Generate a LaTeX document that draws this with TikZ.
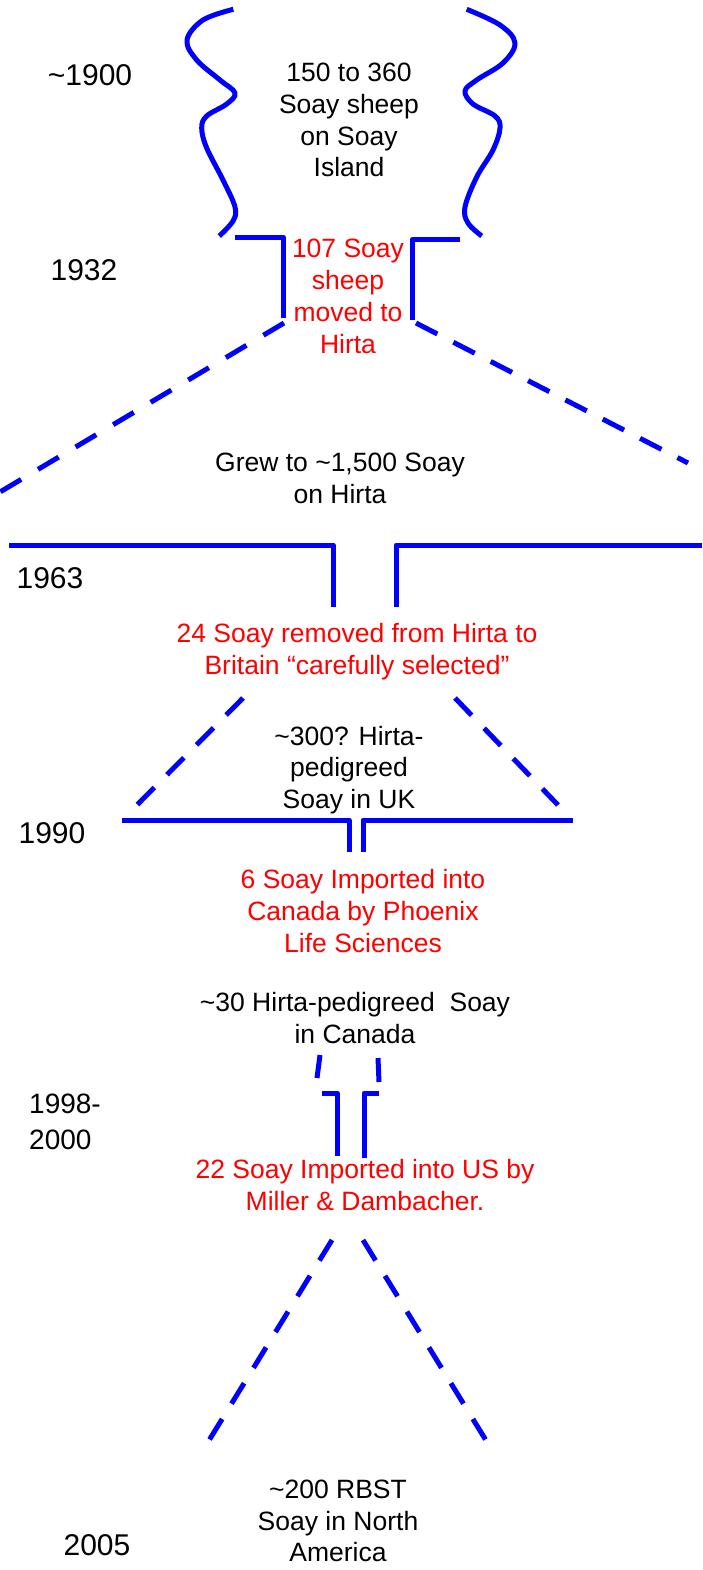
\documentclass[tikz,border=0pt]{standalone}
\usepackage{fontspec}
\setmainfont{Liberation Sans}
\tikzset{
  rim/.style={blue, line width=5pt, line join=round},
  trail/.style={blue, line width=5pt, dash pattern=on 24pt off 18pt},
  body/.style={font=\fontsize{26.5}{31.8}\selectfont, align=center, inner sep=0pt},
  event/.style={body, text=red},
  yearlbl/.style={font=\fontsize{30}{36}\selectfont, inner sep=0pt, align=left},
}
\begin{document}
\begin{tikzpicture}[x=1pt, y=-1pt]
\useasboundingbox (0,0) rectangle (702,1570);

% Soay Island: two wavy coastlines
\draw[rim] plot[smooth, tension=0.6] coordinates {
  (233.3,9.3) (203,20) (187,40) (196.7,60) (220,80) (235,93) (226.7,104)
  (206.7,116) (201.7,128) (206.7,148) (223,180) (235,207) (233,221) (219.3,236)};
\draw[rim] plot[smooth, tension=0.6] coordinates {
  (466.7,9.3) (500,25) (515,43) (503,63) (476.7,80) (465,91) (473,104)
  (495,116) (500,128) (493,150) (476.7,177) (465,207) (468,223) (481.7,236)};

% 1932 neck
\coordinate (a1) at (235,237.3);  \coordinate (a2) at (283.3,237.3); \coordinate (a3) at (283.3,318.3);
\coordinate (b1) at (460,239.3);  \coordinate (b2) at (412.3,239.3); \coordinate (b3) at (412.3,320);
\draw[rim] (a1) -- (a2) -- (a3);
\draw[rim] (b1) -- (b2) -- (b3);

% Hirta spread
\coordinate (c1) at (284,323); \coordinate (c2) at (0,492);
\coordinate (d1) at (416,323); \coordinate (d2) at (688,463);
\draw[trail, dash pattern=on 24pt off 19.7pt] (c1) -- (c2);
\draw[trail] (d1) -- (d2);

% 1963 neck
\coordinate (e1) at (9,545);   \coordinate (e2) at (333,545); \coordinate (e3) at (333,607);
\coordinate (f1) at (702,545); \coordinate (f2) at (396,545); \coordinate (f3) at (396,607);
\draw[rim] (e1) -- (e2) -- (e3);
\draw[rim] (f1) -- (f2) -- (f3);

% UK spread
\coordinate (g1) at (243,698); \coordinate (g2) at (137,805);
\coordinate (h1) at (455,698); \coordinate (h2) at (558,805);
\draw[trail] (g1) -- (g2);
\draw[trail] (h1) -- (h2);

% 1990 neck
\coordinate (i1) at (122,820); \coordinate (i2) at (349,820); \coordinate (i3) at (349,852);
\coordinate (j1) at (573,820); \coordinate (j2) at (363,820); \coordinate (j3) at (363,852);
\draw[rim] (i1) -- (i2) -- (i3);
\draw[rim] (j1) -- (j2) -- (j3);

% Canada stubs and 1998-2000 neck
\coordinate (k1) at (320,1055); \coordinate (k2) at (317,1078);
\coordinate (l1) at (378,1058); \coordinate (l2) at (379,1082);
\draw[rim] (k1) -- (k2);
\draw[rim] (l1) -- (l2);
\coordinate (m1) at (322,1093); \coordinate (m2) at (337,1093); \coordinate (m3) at (337,1156);
\coordinate (n1) at (379,1093); \coordinate (n2) at (364,1093); \coordinate (n3) at (364,1158);
\draw[rim] (m1) -- (m2) -- (m3);
\draw[rim] (n1) -- (n2) -- (n3);

% North America spread
\coordinate (o1) at (332,1240); \coordinate (o2) at (208,1442);
\coordinate (p1) at (363,1240); \coordinate (p2) at (487,1442);
\draw[trail] (o1) -- (o2);
\draw[trail] (p1) -- (p2);

% years
\node[yearlbl] (y1900) at (90,75) {\textasciitilde1900};
\node[yearlbl] (y1932) at (84,270) {1932};
\node[yearlbl] (y1963) at (50,578) {1963};
\node[yearlbl] (y1990) at (52,833) {1990};
\node[yearlbl, font=\fontsize{28}{36}\selectfont] (y1998) at (65,1122) {1998-\\2000};
\node[yearlbl] (y2005) at (97,1545) {2005};

% populations
\node[body] (soay) at (349,120) {150 to 360\\Soay sheep\\on Soay\\Island};
\node[body] (hirta) at (340,478) {Grew to \textasciitilde1,500 Soay\\on Hirta};
\node[body] (uk) at (349,770) {\textasciitilde300? Hirta-\\pedigreed\\Soay in UK};
\node[body] (canada) at (355,1018) {\textasciitilde30 Hirta-pedigreed\ \ Soay\\in Canada};
\node[body] (na) at (338,1521) {\textasciitilde200 RBST\\Soay in North\\America};

% transfers
\node[event] (t1932) at (348,296.5) {107 Soay\\sheep\\moved to\\Hirta};
\node[event] (t1963) at (357,651.5) {24 Soay removed from Hirta to\\Britain “carefully selected”};
\node[event] (t1990) at (363,911) {6 Soay Imported into\\Canada by Phoenix\\Life Sciences};
\node[event] (t1998) at (365,1185) {22 Soay Imported into US by\\Miller \& Dambacher.};
\end{tikzpicture}
\end{document}
